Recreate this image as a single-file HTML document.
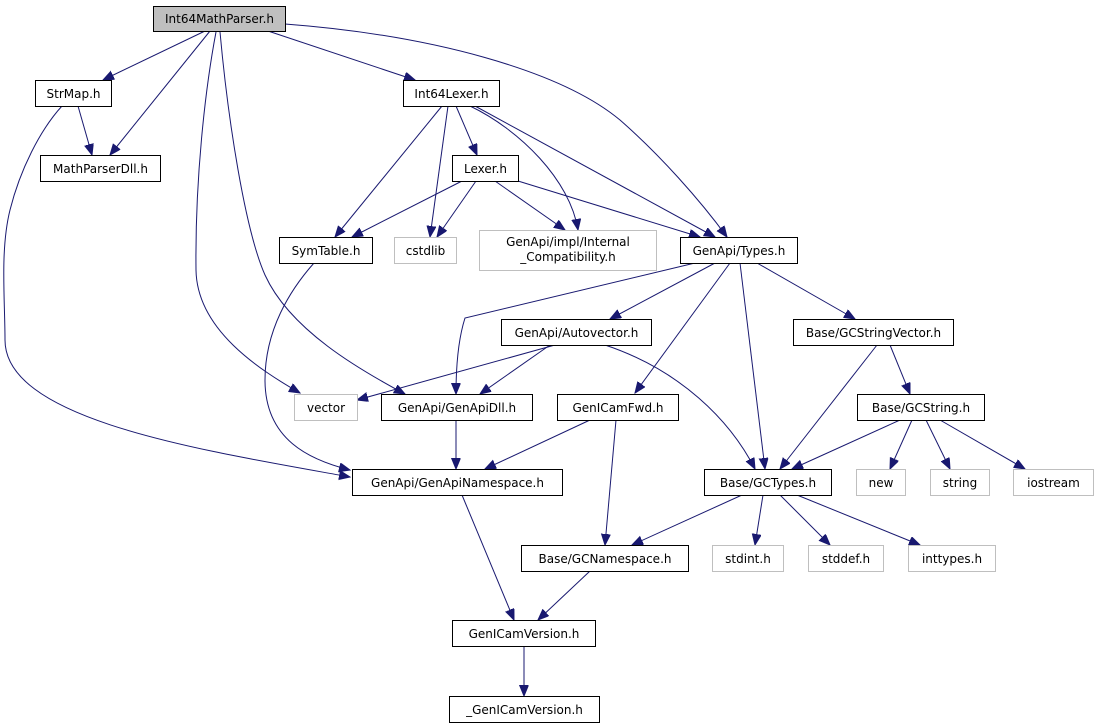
<!DOCTYPE html>
<html><head><meta charset="utf-8"><style>
html,body{margin:0;padding:0;background:#fff;}
svg{display:block;}
text{font-family:"DejaVu Sans","Liberation Sans",sans-serif;font-size:12px;fill:#000;}
.n{fill:#fff;stroke:#000;stroke-width:1;}
.g{fill:#fff;stroke:#bfbfbf;stroke-width:1;}
.e{fill:none;stroke:#191970;stroke-width:1;}
</style></head><body>
<svg width="1095" height="724" viewBox="0 0 1095 724" xmlns="http://www.w3.org/2000/svg">
<defs><marker id="a" markerUnits="userSpaceOnUse" markerWidth="12" markerHeight="10" refX="11" refY="4.5" orient="auto"><path d="M0,0 L11,4.5 L0,9 z" fill="#191970" stroke="#191970"/></marker></defs>
<g marker-end="url(#a)">
<path class="e" d="M205,31 L103,80"/>
<path class="e" d="M210,31 L110,155"/>
<path class="e" d="M268,31 L415,80"/>
<path class="e" d="M285,24 C430,35 560,70 620,120 C660,155 700,200 727,237"/>
<path class="e" d="M216,32 C205,90 195,180 196,270 C197,330 260,370 300,393"/>
<path class="e" d="M220,32 C228,120 245,230 265,275 C290,330 360,370 405,394"/>
<path class="e" d="M78,106 L92,155"/>
<path class="e" d="M62,106 C40,130 20,170 10,210 C0,250 5,300 5,340 C5,420 200,450 350,477"/>
<path class="e" d="M442,106 L335,237"/>
<path class="e" d="M448,106 L430,237"/>
<path class="e" d="M456,106 L477,155"/>
<path class="e" d="M470,106 C520,130 570,180 578,230"/>
<path class="e" d="M475,106 L715,237"/>
<path class="e" d="M462,181 L352,237"/>
<path class="e" d="M476,181 L437,237"/>
<path class="e" d="M495,181 L565,230"/>
<path class="e" d="M518,181 L700,237"/>
<path class="e" d="M314,263 C290,290 265,330 265,380 C265,440 310,460 350,470"/>
<path class="e" d="M695,263 L465,318 C458,340 456,370 456,394"/>
<path class="e" d="M715,263 L610,319"/>
<path class="e" d="M730,263 L635,393"/>
<path class="e" d="M740,263 L765,469"/>
<path class="e" d="M757,263 L855,319"/>
<path class="e" d="M555,345 L357,400"/>
<path class="e" d="M550,345 L480,394"/>
<path class="e" d="M605,345 C680,370 730,420 755,469"/>
<path class="e" d="M456,420 L456,469"/>
<path class="e" d="M590,420 L485,469"/>
<path class="e" d="M616,420 L605,545"/>
<path class="e" d="M877,345 L780,469"/>
<path class="e" d="M890,345 L910,394"/>
<path class="e" d="M900,420 L792,469"/>
<path class="e" d="M912,420 L890,469"/>
<path class="e" d="M926,420 L950,469"/>
<path class="e" d="M940,420 L1025,469"/>
<path class="e" d="M742,495 L632,545"/>
<path class="e" d="M763,495 L755,545"/>
<path class="e" d="M780,495 L830,545"/>
<path class="e" d="M797,495 L920,545"/>
<path class="e" d="M462,495 L514,620"/>
<path class="e" d="M590,571 L538,620"/>
<path class="e" d="M524,646 L524,696"/>
</g>
<rect x="153.5" y="6.5" width="132" height="25" fill="#bfbfbf" stroke="#000"/><text x="219.5" y="23" text-anchor="middle">Int64MathParser.h</text>
<rect class="n" x="35.5" y="80.5" width="76" height="26"/><text x="73.5" y="98" text-anchor="middle">StrMap.h</text>
<rect class="n" x="40.5" y="155.5" width="120" height="26"/><text x="100.5" y="173" text-anchor="middle">MathParserDll.h</text>
<rect class="n" x="403.5" y="80.5" width="96" height="26"/><text x="451.5" y="98" text-anchor="middle">Int64Lexer.h</text>
<rect class="n" x="452.5" y="155.5" width="66" height="26"/><text x="485.5" y="173" text-anchor="middle">Lexer.h</text>
<rect class="n" x="279.5" y="237.5" width="93" height="26"/><text x="326" y="255" text-anchor="middle">SymTable.h</text>
<rect class="g" x="394.5" y="237.5" width="62" height="26"/><text x="425.5" y="255" text-anchor="middle">cstdlib</text>
<rect class="g" x="479.5" y="230.5" width="177" height="40"/><text x="568" y="246" text-anchor="middle">GenApi/impl/Internal</text><text x="568" y="261" text-anchor="middle">_Compatibility.h</text>
<rect class="n" x="680.5" y="237.5" width="117" height="26"/><text x="739" y="255" text-anchor="middle">GenApi/Types.h</text>
<rect class="n" x="501.5" y="319.5" width="150" height="26"/><text x="576.5" y="337" text-anchor="middle">GenApi/Autovector.h</text>
<rect class="n" x="793.5" y="319.5" width="160" height="26"/><text x="873.5" y="337" text-anchor="middle">Base/GCStringVector.h</text>
<rect class="g" x="294.5" y="394.5" width="63" height="26"/><text x="326" y="412" text-anchor="middle">vector</text>
<rect class="n" x="381.5" y="394.5" width="151" height="26"/><text x="457" y="412" text-anchor="middle">GenApi/GenApiDll.h</text>
<rect class="n" x="557.5" y="394.5" width="121" height="26"/><text x="618" y="412" text-anchor="middle">GenICamFwd.h</text>
<rect class="n" x="857.5" y="394.5" width="127" height="26"/><text x="921" y="412" text-anchor="middle">Base/GCString.h</text>
<rect class="n" x="352.5" y="469.5" width="210" height="26"/><text x="457.5" y="487" text-anchor="middle">GenApi/GenApiNamespace.h</text>
<rect class="n" x="704.5" y="469.5" width="127" height="26"/><text x="768" y="487" text-anchor="middle">Base/GCTypes.h</text>
<rect class="g" x="856.5" y="469.5" width="49" height="26"/><text x="881" y="487" text-anchor="middle">new</text>
<rect class="g" x="930.5" y="469.5" width="59" height="26"/><text x="960" y="487" text-anchor="middle">string</text>
<rect class="g" x="1013.5" y="469.5" width="80" height="26"/><text x="1053.5" y="487" text-anchor="middle">iostream</text>
<rect class="n" x="521.5" y="545.5" width="167" height="26"/><text x="605" y="563" text-anchor="middle">Base/GCNamespace.h</text>
<rect class="g" x="712.5" y="545.5" width="71" height="26"/><text x="748" y="563" text-anchor="middle">stdint.h</text>
<rect class="g" x="808.5" y="545.5" width="75" height="26"/><text x="846" y="563" text-anchor="middle">stddef.h</text>
<rect class="g" x="908.5" y="545.5" width="87" height="26"/><text x="952" y="563" text-anchor="middle">inttypes.h</text>
<rect class="n" x="452.5" y="620.5" width="143" height="26"/><text x="524" y="638" text-anchor="middle">GenICamVersion.h</text>
<rect class="n" x="449.5" y="696.5" width="150" height="26"/><text x="524.5" y="714" text-anchor="middle">_GenICamVersion.h</text>
</svg>
</body></html>
